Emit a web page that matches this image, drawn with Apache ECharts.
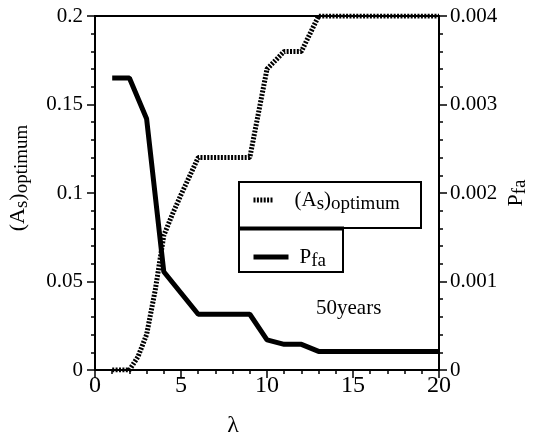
<!DOCTYPE html>
<html>
<head>
<meta charset="utf-8">
<script src="https://cdn.jsdelivr.net/npm/echarts@6/dist/echarts.min.js"></script>
<style>
  html, body { margin: 0; padding: 0; background: #fff; }
  #chart { width: 546px; height: 440px; }
</style>
</head>
<body>
<div id="chart"></div>
<script>
// Optimum A_s versus lambda (left axis)
const lambdaAs = [1, 2, 2.5, 3, 3.5, 4, 4.5, 5, 6, 7, 8, 9, 10, 11, 12, 13, 14, 15, 16, 17, 18, 19, 20];
const asOptimum = [0, 0, 0.0075, 0.02, 0.045, 0.076, 0.088, 0.099, 0.12, 0.12, 0.12, 0.12,
                   0.17, 0.18, 0.18, 0.2, 0.2, 0.2, 0.2, 0.2, 0.2, 0.2, 0.2];

// False-alarm probability versus lambda (right axis)
const lambdaPfa = [1, 2, 3, 4, 5, 6, 7, 8, 9, 10, 11, 12, 13, 14, 15, 16, 17, 18, 19, 20];
const pfa = [0.0033, 0.0033, 0.00284, 0.00111, 0.00087, 0.00063, 0.00063, 0.00063, 0.00063,
             0.00034, 0.00029, 0.00029, 0.00021, 0.00021, 0.00021, 0.00021, 0.00021, 0.00021,
             0.00021, 0.00021];

const seriesNames = ['As', 'Pfa'];
const legendText = {
  As: '(A{s|s}){s|optimum}',
  Pfa: 'P{s|fa}'
};
const caption = '50years';

const FONT = 'Liberation Serif';
const subRich = { s: { fontSize: 19, fontFamily: FONT, color: '#000', padding: [9, 0, 0, 0], lineHeight: 19 } };
const dotted = [2, 1.4];

const chart = echarts.init(document.getElementById('chart'), null, { renderer: 'canvas' });

const zip = (xs, ys) => xs.map((x, i) => [x, ys[i]]);

const yAxisCommon = {
  type: 'value',
  nameLocation: 'middle',
  nameRotate: 90,
  axisLine: { show: true, onZero: false, lineStyle: { color: '#000', width: 2 } },
  axisTick: { show: true, length: 8, lineStyle: { color: '#000', width: 1.5 } },
  minorTick: { show: true, splitNumber: 5, length: 4, lineStyle: { color: '#000', width: 1.5 } },
  splitLine: { show: false }
};

chart.setOption({
  animation: false,
  backgroundColor: '#fff',
  grid: {
    left: 95, right: 107, top: 16, bottom: 70,
    outerBoundsMode: 'none', containLabel: false,
    show: true, borderColor: '#000', borderWidth: 2, backgroundColor: 'transparent'
  },
  xAxis: {
    type: 'value', min: 0, max: 20, interval: 5,
    name: 'λ', nameLocation: 'middle', nameGap: 44,
    nameTextStyle: { fontFamily: FONT, fontSize: 24, color: '#000', padding: [0, 68, 0, 0] },
    axisLine: { show: true, onZero: false, lineStyle: { color: '#000', width: 2 } },
    axisTick: { show: true, length: 8, lineStyle: { color: '#000', width: 1.5 } },
    minorTick: { show: true, splitNumber: 5, length: 4, lineStyle: { color: '#000', width: 1.5 } },
    splitLine: { show: false },
    axisLabel: { fontFamily: FONT, fontSize: 24, color: '#000', margin: 4 }
  },
  yAxis: [
    Object.assign({}, yAxisCommon, {
      position: 'left', min: 0, max: 0.2, interval: 0.05,
      name: '(A{s|s}){s|optimum}', nameGap: 66,
      nameTextStyle: { fontFamily: FONT, fontSize: 22, color: '#000', lineHeight: 22,
                       padding: [0, 0, 0, 30], rich: subRich },
      axisLabel: { fontFamily: FONT, fontSize: 21, color: '#000', margin: 12 }
    }),
    Object.assign({}, yAxisCommon, {
      position: 'right', min: 0, max: 0.004, interval: 0.001,
      name: 'P{s|fa}', nameGap: 66, nameMoveOverlap: false,
      nameTextStyle: { fontFamily: FONT, fontSize: 22, color: '#000', lineHeight: 22, rich: subRich },
      axisLabel: { fontFamily: FONT, fontSize: 21, color: '#000', margin: 11 }
    })
  ],
  legend: [
    {
      data: [seriesNames[0]], left: 251, top: 186, padding: 0,
      itemWidth: 20, itemHeight: 14,
      itemStyle: { opacity: 0 },
      lineStyle: { width: 5, type: dotted },
      formatter: n => legendText[n],
      textStyle: { fontFamily: FONT, fontSize: 21, color: '#000', lineHeight: 22,
                   padding: [0, 0, 0, 16], rich: subRich }
    },
    {
      data: [seriesNames[1]], left: 251, top: 243, padding: 0,
      itemWidth: 35, itemHeight: 14,
      itemStyle: { opacity: 0 },
      lineStyle: { width: 5 },
      formatter: n => legendText[n],
      textStyle: { fontFamily: FONT, fontSize: 21, color: '#000', lineHeight: 22,
                   padding: [0, 0, 0, 6], rich: subRich }
    }
  ],
  graphic: [
    // legend frames
    { type: 'rect', shape: { x: 239, y: 182, width: 182, height: 46 },
      style: { fill: 'transparent', stroke: '#000', lineWidth: 2 }, z: 10 },
    { type: 'rect', shape: { x: 239, y: 228, width: 104, height: 44 },
      style: { fill: 'transparent', stroke: '#000', lineWidth: 2 }, z: 10 },
    { type: 'line', shape: { x1: 238, y1: 228.5, x2: 344, y2: 228.5 },
      style: { stroke: '#000', lineWidth: 4 }, z: 10 },
    { type: 'text', x: 316, y: 308,
      style: { text: caption, fontFamily: FONT, fontSize: 21, fill: '#000', verticalAlign: 'middle' }, z: 10 }
  ],
  series: [
    {
      name: seriesNames[0], type: 'line', yAxisIndex: 0,
      data: zip(lambdaAs, asOptimum),
      symbol: 'none',
      lineStyle: { color: '#000', width: 5, type: dotted },
      itemStyle: { color: '#000' }
    },
    {
      name: seriesNames[1], type: 'line', yAxisIndex: 1,
      data: zip(lambdaPfa, pfa),
      symbol: 'none',
      lineStyle: { color: '#000', width: 5 },
      itemStyle: { color: '#000' }
    }
  ]
});
</script>
</body>
</html>
